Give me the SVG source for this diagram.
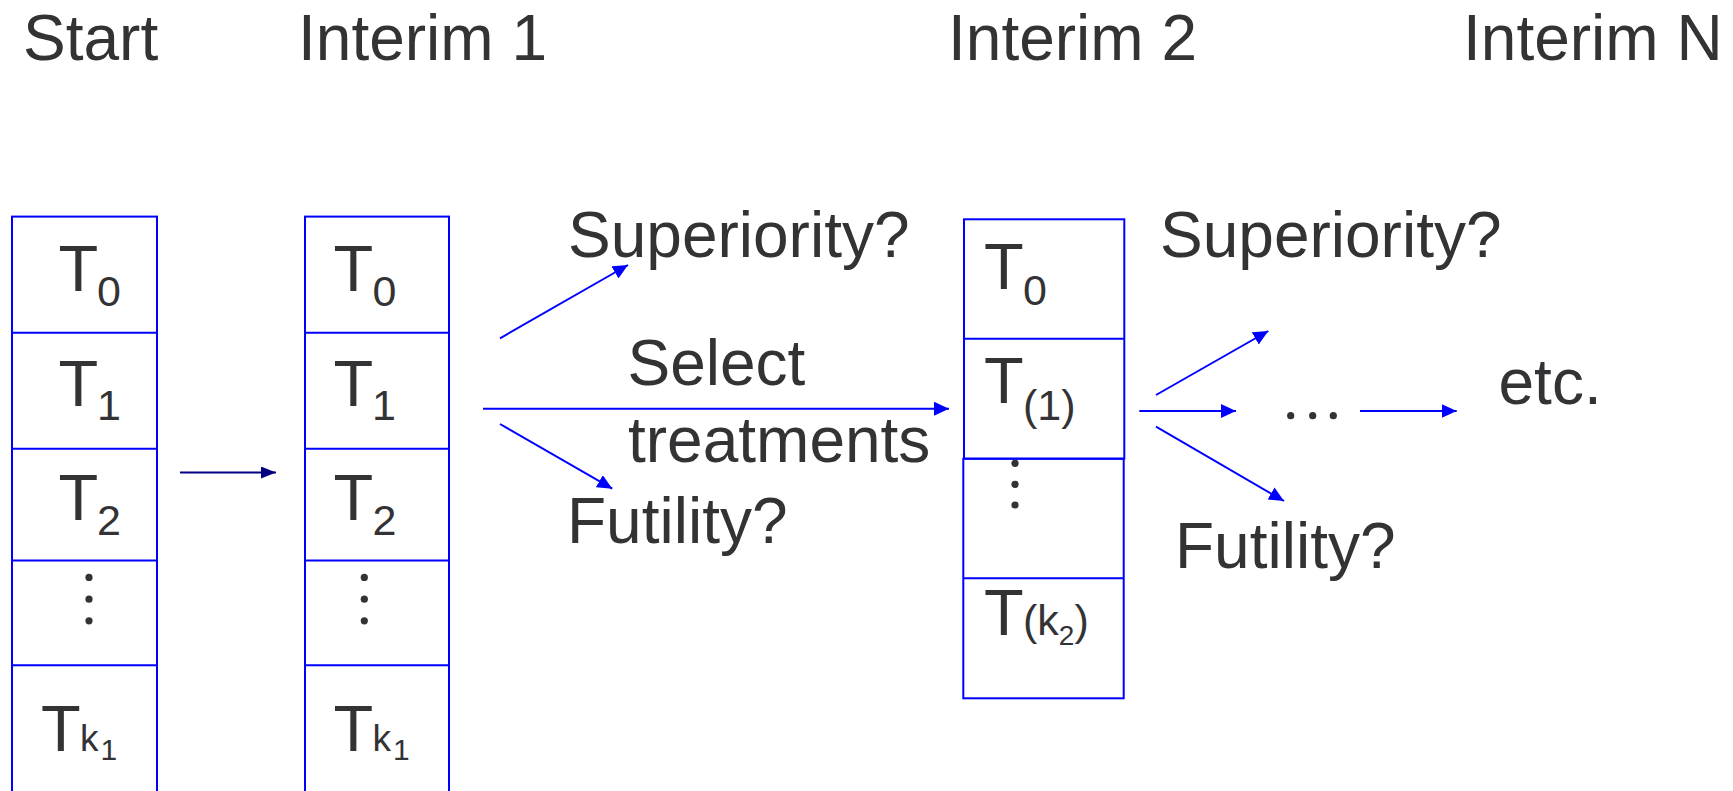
<svg xmlns="http://www.w3.org/2000/svg" width="1733" height="791" viewBox="0 0 1733 791">
<style>
text{font-family:"Liberation Sans",Arial,sans-serif;fill:#333336}
.t{font-size:65px}
.s{font-size:43px}
.lbl{font-size:64px}
.ttl{font-size:64px}
.box{fill:none;stroke:#0000ff;stroke-width:2}
.ar{stroke:#0000ff;stroke-width:2;fill:none}
.dot{fill:#333336}
</style>
<defs>
<marker id="ab" viewBox="0 0 15 14" refX="15" refY="7" markerWidth="15" markerHeight="14" markerUnits="userSpaceOnUse" orient="auto"><path d="M0,0 L15,7 L0,14 z" fill="#0000ff"/></marker>
<marker id="an" viewBox="0 0 15 12" refX="15" refY="6" markerWidth="15" markerHeight="12" markerUnits="userSpaceOnUse" orient="auto"><path d="M0,0 L15,6 L0,12 z" fill="#000080"/></marker>
</defs>
<g id="titles">
<text class="ttl" x="23" y="60">Start</text>
<text class="ttl" x="298" y="60">Interim 1</text>
<text class="ttl" x="948" y="60">Interim 2</text>
<text class="ttl" x="1463" y="60">Interim N</text>
</g>
<g id="start-box">
<rect class="box" x="12" y="216.6" width="145" height="600"/>
<line class="box" x1="12" y1="332.8" x2="157" y2="332.8"/>
<line class="box" x1="12" y1="448.7" x2="157" y2="448.7"/>
<line class="box" x1="12" y1="560.4" x2="157" y2="560.4"/>
<line class="box" x1="12" y1="665.3" x2="157" y2="665.3"/>
<text class="t" x="58.5" y="290.6">T<tspan class="s" x="97" y="306.4">0</tspan></text>
<text class="t" x="58.5" y="405.7">T<tspan class="s" x="97" y="419.6">1</tspan></text>
<text class="t" x="58.5" y="520">T<tspan class="s" x="97" y="535">2</tspan></text>
<circle class="dot" cx="89" cy="577.4" r="3.6"/><circle class="dot" cx="89" cy="599.2" r="3.6"/><circle class="dot" cx="89" cy="620.8" r="3.6"/>
<text class="t" x="41" y="751">T<tspan font-size="37" x="80" y="751">k</tspan><tspan font-size="30" x="100.5" y="760.4">1</tspan></text>
</g>
<g id="interim1-box">
<rect class="box" x="305" y="216.6" width="144" height="600"/>
<line class="box" x1="305" y1="332.8" x2="449" y2="332.8"/>
<line class="box" x1="305" y1="448.7" x2="449" y2="448.7"/>
<line class="box" x1="305" y1="560.4" x2="449" y2="560.4"/>
<line class="box" x1="305" y1="665.3" x2="449" y2="665.3"/>
<text class="t" x="333.5" y="290.6">T<tspan class="s" x="372.5" y="306.4">0</tspan></text>
<text class="t" x="333.5" y="405.7">T<tspan class="s" x="372" y="419.6">1</tspan></text>
<text class="t" x="333.5" y="520">T<tspan class="s" x="372.5" y="535">2</tspan></text>
<circle class="dot" cx="364.3" cy="577.4" r="3.6"/><circle class="dot" cx="364.3" cy="599.2" r="3.6"/><circle class="dot" cx="364.3" cy="620.8" r="3.6"/>
<text class="t" x="333.5" y="751">T<tspan font-size="37" x="372.5" y="751">k</tspan><tspan font-size="30" x="393" y="760.4">1</tspan></text>
</g>
<g id="interim2-box">
<rect class="box" x="964" y="219.3" width="160.3" height="239.4"/>
<line class="box" x1="964" y1="338.7" x2="1124.3" y2="338.7"/>
<rect class="box" x="963.3" y="458.7" width="160.4" height="239.6"/>
<line class="box" x1="963.3" y1="578.3" x2="1123.7" y2="578.3"/>
<text class="t" x="984" y="289.3">T<tspan class="s" x="1023" y="305">0</tspan></text>
<text class="t" x="984" y="403.3">T<tspan class="s" x="1023" y="420">(1)</tspan></text>
<circle class="dot" cx="1015" cy="463.3" r="3.6"/><circle class="dot" cx="1015" cy="484.3" r="3.6"/><circle class="dot" cx="1015" cy="505" r="3.6"/>
<text class="t" x="984" y="635">T<tspan class="s" x="1023" y="635">(k</tspan><tspan font-size="28" y="645">2</tspan><tspan class="s" y="635">)</tspan></text>
</g>
<g id="labels">
<text class="lbl" x="568" y="256.7">Superiority?</text>
<text class="lbl" x="627.5" y="385">Select</text>
<text class="lbl" x="628" y="461.7">treatments</text>
<text class="lbl" x="567" y="543.3">Futility?</text>
<text class="lbl" x="1160" y="256.7">Superiority?</text>
<text class="lbl" x="1175" y="568.3">Futility?</text>
<text class="lbl" x="1498.5" y="404">etc.</text>
<g id="ellipsis">
<circle class="dot" cx="1290.7" cy="415.7" r="3.6"/><circle class="dot" cx="1312.7" cy="415.7" r="3.6"/><circle class="dot" cx="1333.3" cy="415.7" r="3.6"/>
</g>
</g>
<g id="connectors">
<line x1="180" y1="472.5" x2="276" y2="472.5" stroke="#000080" stroke-width="2" marker-end="url(#an)"/>
<line class="ar" x1="500" y1="338.3" x2="628" y2="265" marker-end="url(#ab)"/>
<line class="ar" x1="483" y1="408.7" x2="949" y2="408.7" marker-end="url(#ab)"/>
<line class="ar" x1="500" y1="424" x2="612.3" y2="488.7" marker-end="url(#ab)"/>
<line class="ar" x1="1156" y1="395" x2="1268.3" y2="331" marker-end="url(#ab)"/>
<line class="ar" x1="1139.3" y1="411" x2="1236" y2="411" marker-end="url(#ab)"/>
<line class="ar" x1="1156" y1="426.7" x2="1284" y2="501" marker-end="url(#ab)"/>
<line class="ar" x1="1360" y1="411" x2="1456.7" y2="411" marker-end="url(#ab)"/>
</g>
</svg>
